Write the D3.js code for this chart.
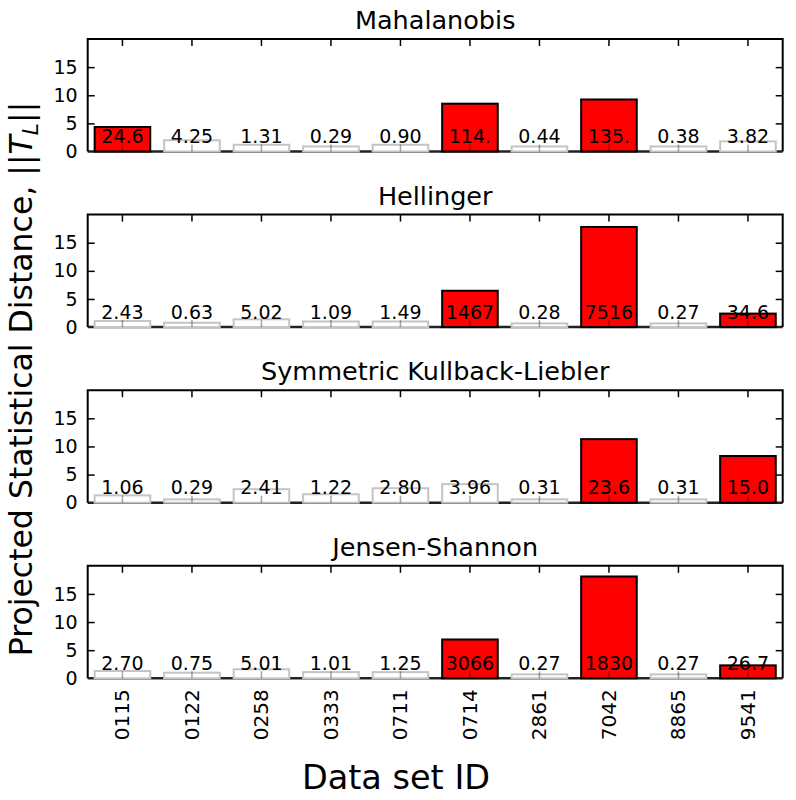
<!DOCTYPE html>
<html>
<head>
<meta charset="utf-8">
<script src="https://cdn.jsdelivr.net/npm/d3@7"></script>
<style>
  html, body { margin: 0; padding: 0; background: #fff; }
  svg { display: block; font-family: "DejaVu Sans", sans-serif; }
</style>
</head>
<body>
<svg id="chart" width="796" height="800"></svg>
<script>
// ---------------- data ----------------
const datasetIds = ["0115","0122","0258","0333","0711","0714","2861","7042","8865","9541"];
const panelTitles = ["Mahalanobis","Hellinger","Symmetric Kullback-Liebler","Jensen-Shannon"];

const mahalanobisHeights = [4.35, 2.0, 1.2, 0.9, 1.2, 8.5, 0.9, 9.25, 0.9, 1.8];
const mahalanobisLabels  = ["24.6","4.25","1.31","0.29","0.90","114.","0.44","135.","0.38","3.82"];

const hellingerHeights = [1.08, 0.77, 1.38, 1.0, 1.0, 6.46, 0.66, 17.8, 0.66, 2.4];
const hellingerLabels  = ["2.43","0.63","5.02","1.09","1.49","1467","0.28","7516","0.27","34.6"];

const sklHeights = [1.3, 0.6, 2.4, 1.5, 2.57, 3.3, 0.6, 11.3, 0.6, 8.3];
const sklLabels  = ["1.06","0.29","2.41","1.22","2.80","3.96","0.31","23.6","0.31","15.0"];

const jsHeights = [1.3, 1.0, 1.6, 1.1, 1.1, 6.9, 0.7, 18.1, 0.7, 2.3];
const jsLabels  = ["2.70","0.75","5.01","1.01","1.25","3066","0.27","1830","0.27","26.7"];

const yTicks = [0, 5, 10, 15];
const yDomain = [0, 20];
const significanceThreshold = 10;   // labels >= this are drawn red
const labelLevel = 1.5;             // data-y at which value labels sit

const panels = [
  { title: panelTitles[0], heights: mahalanobisHeights, labels: mahalanobisLabels },
  { title: panelTitles[1], heights: hellingerHeights,   labels: hellingerLabels },
  { title: panelTitles[2], heights: sklHeights,         labels: sklLabels },
  { title: panelTitles[3], heights: jsHeights,          labels: jsLabels }
];

// ---------------- layout ----------------
const svg = d3.select("#chart");
const left = 87.7, right = 782.7;
const panelTop0 = 39, panelStep = 175.6, panelH = 112.5;

const x = d3.scaleBand().domain(datasetIds).range([left, right])
  .paddingInner(0.2).paddingOuter(0.1);

panels.forEach((p, pi) => {
  const top = panelTop0 + pi * panelStep;
  const bottom = top + panelH;
  const y = d3.scaleLinear().domain(yDomain).range([bottom, top]);
  const g = svg.append("g");

  // bottom spine (drawn first, bars cover it)
  g.append("line").attr("x1", left).attr("x2", right)
    .attr("y1", y(0)).attr("y2", y(0))
    .attr("stroke", "#222").attr("stroke-width", 2.5);

  // bars
  g.selectAll("rect.bar").data(p.heights).join("rect")
    .attr("class", "bar")
    .attr("x", (d, i) => x(datasetIds[i]))
    .attr("width", x.bandwidth())
    .attr("y", d => y(d))
    .attr("height", d => y(0) - y(d))
    .attr("fill", (d, i) => parseFloat(p.labels[i]) >= significanceThreshold ? "#ff0000" : "#ffffff")
    .attr("stroke", (d, i) => parseFloat(p.labels[i]) >= significanceThreshold ? "#000" : "#c4c4c4")
    .attr("stroke-width", 2);

  // bottom ticks (inward, on top of bars)
  g.selectAll("line.btick").data(datasetIds).join("line")
    .attr("class", "btick")
    .attr("x1", d => x(d) + x.bandwidth() / 2).attr("x2", d => x(d) + x.bandwidth() / 2)
    .attr("y1", y(0)).attr("y2", y(0) - 7)
    .attr("stroke", "#000").attr("stroke-opacity", 0.35).attr("stroke-width", 1.5);

  // top ticks
  g.selectAll("line.ttick").data(datasetIds).join("line")
    .attr("class", "ttick")
    .attr("x1", d => x(d) + x.bandwidth() / 2).attr("x2", d => x(d) + x.bandwidth() / 2)
    .attr("y1", top).attr("y2", top + 7)
    .attr("stroke", "#000").attr("stroke-width", 1.5);

  // left y axis
  const yAxisL = d3.axisLeft(y).tickValues(yTicks).tickSize(-7).tickPadding(10)
    .tickFormat(d3.format("d"));
  const ga = g.append("g").attr("transform", `translate(${left},0)`).call(yAxisL);
  ga.select(".domain").remove();
  ga.selectAll(".tick line").attr("stroke", "#000").attr("stroke-width", 1.5);
  ga.selectAll(".tick text").attr("font-size", 19).attr("fill", "#000")
    .attr("font-family", "DejaVu Sans");
  ga.selectAll(".tick").filter(d => d === 0).select("line").remove();

  // right y ticks
  const yAxisR = d3.axisRight(y).tickValues(yTicks).tickSize(-7).tickFormat("");
  const gr = g.append("g").attr("transform", `translate(${right},0)`).call(yAxisR);
  gr.select(".domain").remove();
  gr.selectAll(".tick line").attr("stroke", "#000").attr("stroke-width", 1.5);
  gr.selectAll(".tick").filter(d => d === 0).select("line").remove();

  // left, top, right spines
  g.append("path")
    .attr("d", `M${left},${y(0)}V${top}H${right}V${y(0)}`)
    .attr("fill", "none").attr("stroke", "#000").attr("stroke-width", 2);

  // value labels
  g.selectAll("text.vlabel").data(p.labels).join("text")
    .attr("class", "vlabel")
    .attr("x", (d, i) => x(datasetIds[i]) + x.bandwidth() / 2)
    .attr("y", y(labelLevel))
    .attr("text-anchor", "middle")
    .attr("font-size", 19)
    .attr("fill", "#000")
    .text(d => d);

  // title
  g.append("text")
    .attr("x", (left + right) / 2).attr("y", top - 10)
    .attr("text-anchor", "middle").attr("font-size", 25.5).attr("fill", "#000")
    .text(p.title);

  // x tick labels on the last panel
  if (pi === panels.length - 1) {
    g.selectAll("text.xlabel").data(datasetIds).join("text")
      .attr("class", "xlabel")
      .attr("transform", d => `translate(${x(d) + x.bandwidth() / 2},${bottom + 11}) rotate(-90)`)
      .attr("text-anchor", "end")
      .attr("dy", "0.35em")
      .attr("font-size", 20).attr("fill", "#000")
      .text(d => d);
  }
});

// x axis label
svg.append("text")
  .attr("x", 396).attr("y", 789)
  .attr("text-anchor", "middle").attr("font-size", 33.5).attr("fill", "#000")
  .text("Data set ID");

// y axis label with math
const yl = svg.append("text")
  .attr("transform", "translate(32,379) rotate(-90)")
  .attr("text-anchor", "middle").attr("font-size", 31.5).attr("fill", "#000");
yl.append("tspan").text("Projected Statistical Distance, ||");
yl.append("tspan").attr("font-style", "italic").text("T");
yl.append("tspan").attr("font-style", "italic").attr("font-size", 22).attr("dy", 6).text("L");
yl.append("tspan").attr("dy", -6).text("||");
</script>
</body>
</html>
